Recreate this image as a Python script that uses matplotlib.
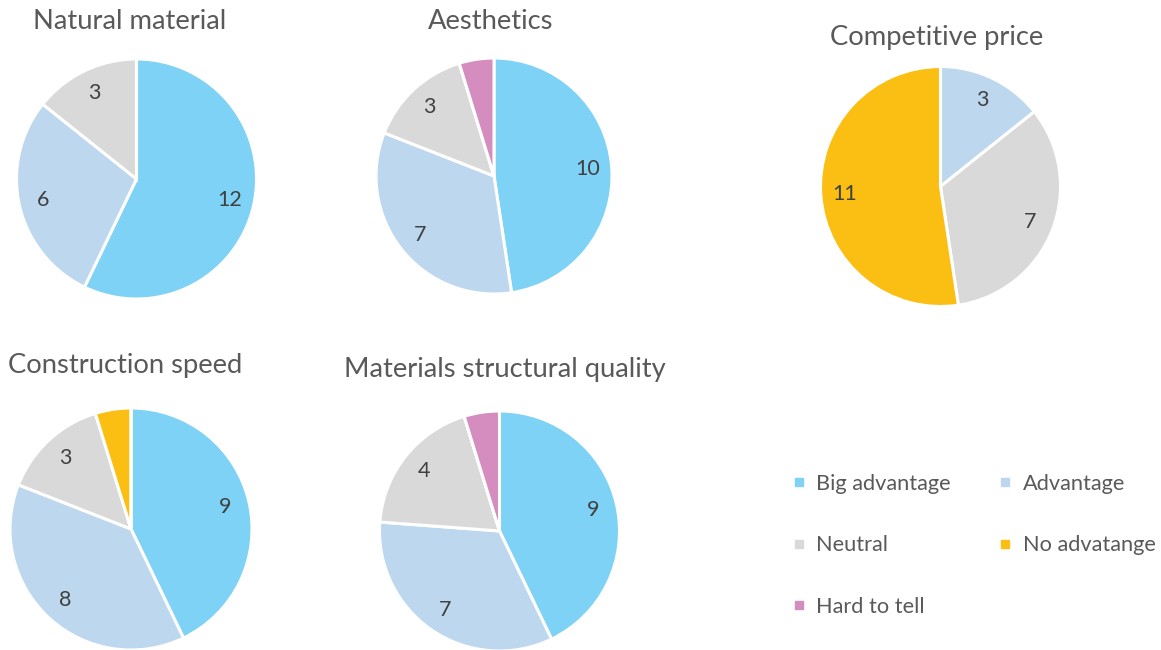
import matplotlib
matplotlib.use("Agg")
import numpy as np
import matplotlib.pyplot as plt
from matplotlib.lines import Line2D

plt.rcParams['font.family'] = ['Lato', 'DejaVu Sans']

# answer categories, clockwise from 12 o'clock
categories = ['Big advantage', 'Advantage', 'Neutral', 'No advatange', 'Hard to tell']
colors = ['#7DD2F5', '#BDD7EE', '#D9D9D9', '#FBBF13', '#D48DBE']

# counts per criterion, same order as categories
natural_material = [12, 6, 3, 0, 0]
aesthetics = [10, 7, 3, 0, 1]
competitive_price = [0, 3, 7, 11, 0]
construction_speed = [9, 8, 3, 1, 0]
structural_quality = [9, 7, 4, 0, 1]

titles = ['Natural material', 'Aesthetics', 'Competitive price',
          'Construction speed', 'Materials structural quality']
series = [natural_material, aesthetics, competitive_price,
          construction_speed, structural_quality]

W, H = 1161, 650
# pie centre x, centre y, radius (px); title centre x, title baseline y (px)
layout = [
    (136.5, 179, 120, 130, 29),
    (494, 176, 118, 491, 29),
    (940.5, 186.5, 120, 937, 45),
    (131, 529, 121, 125, 373),
    (499.5, 531, 120, 505, 377),
]

title_color = '#595959'
label_color = '#404040'

fig = plt.figure(figsize=(W / 100, H / 100), dpi=100)

for name, vals, (cx, cy, r, tx, ty) in zip(titles, series, layout):
    ax = fig.add_axes([(cx - r) / W, 1 - (cy + r) / H, 2 * r / W, 2 * r / H])
    ax.set_aspect('equal')
    ax.axis('off')
    wedges, _ = ax.pie(vals, colors=colors, startangle=90, counterclock=False,
                       radius=1.0, frame=False,
                       wedgeprops=dict(edgecolor='white', linewidth=2.2))
    ax.set_xlim(-1, 1)
    ax.set_ylim(-1, 1)
    # single answers are left without a label
    for w, v in zip(wedges, vals):
        if v < 2:
            continue
        mid = np.deg2rad((w.theta1 + w.theta2) / 2)
        ax.text(0.8 * np.cos(mid), 0.8 * np.sin(mid), str(v),
                ha='center', va='center', fontsize=15.5, color=label_color)
    fig.text(tx / W, 1 - ty / H, name, ha='center', va='baseline',
             fontsize=19.7, color=title_color)

# legend: first column Big advantage / Neutral / Hard to tell
order = [0, 2, 4, 1, 3]
handles = [Line2D([], [], marker='s', linestyle='none', markersize=6,
                  markerfacecolor=colors[i], markeredgecolor=colors[i])
           for i in order]
labels = [categories[i] for i in order]
fig.legend(handles, labels, loc='upper left',
           bbox_to_anchor=(792 / W, 1 - 474 / H), ncol=2, frameon=False,
           fontsize=15.7, labelcolor=title_color, handlelength=0.6,
           handletextpad=0.5, labelspacing=1.9, columnspacing=2.2,
           borderpad=0, borderaxespad=0)

fig.savefig('out.png', dpi=100)
